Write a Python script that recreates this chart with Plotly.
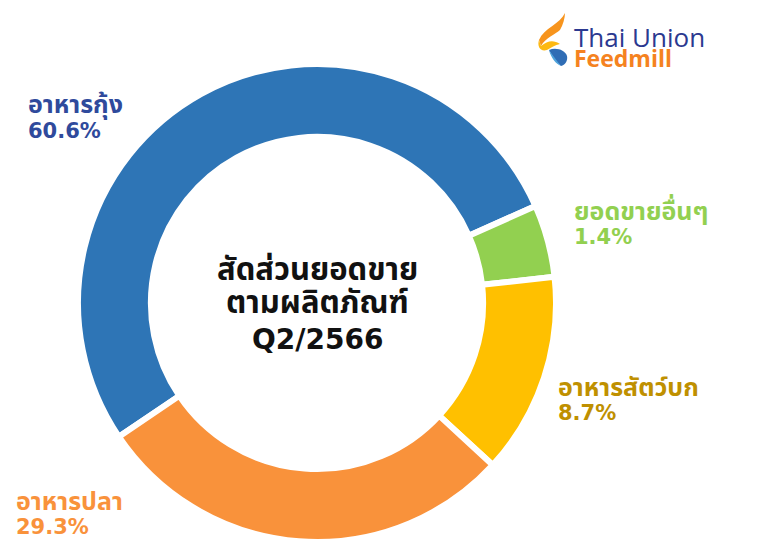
import plotly.graph_objects as go

W, H = 777, 556

# ---- data ----
categories = ["อาหารกุ้ง", "ยอดขายอื่นๆ", "อาหารสัตว์บก", "อาหารปลา"]
slice_values = [52.8, 4.9, 13.6, 28.7]          # slice sizes as drawn
label_pcts = ["60.6%", "1.4%", "8.7%", "29.3%"]  # printed labels
slice_colors = ["#2E75B6", "#92D050", "#FFC000", "#F9923B"]
label_colors = ["#2F4A9C", "#92D050", "#BF9000", "#F9923B"]
center_lines = ["สัดส่วนยอดขาย", "ตามผลิตภัณฑ์", "Q2/2566"]

THAI = "Tahoma, 'Noto Sans Thai', 'Noto Sans', sans-serif"
LATIN = "Tahoma, 'DejaVu Sans', Verdana, sans-serif"


def px(x):
    return x / W


def py(y):
    return 1 - y / H


cx, cy, r = 317, 303, 239
fig = go.Figure(go.Pie(
    labels=categories,
    values=slice_values,
    sort=False,
    direction="clockwise",
    rotation=236,
    hole=0.695,
    marker=dict(colors=slice_colors, line=dict(color="white", width=6)),
    textinfo="none",
    hoverinfo="label+percent",
    showlegend=False,
    domain=dict(x=[px(cx - r), px(cx + r)], y=[py(cy + r), py(cy - r)]),
))

anns = []


def txt(x, y, s, family, size, color, xanchor="left", bold=True):
    anns.append(dict(
        x=px(x), y=py(y), xref="paper", yref="paper",
        xanchor=xanchor, yanchor="middle", showarrow=False,
        text=f"<b>{s}</b>" if bold else s,
        font=dict(family=family, size=size, color=color),
    ))


# slice labels: (left x, name centre y, pct centre y)
label_pos = [(26, 105, 131), (572, 212, 237), (556, 388, 413), (14, 502, 527)]
for name, pct, col, (lx, ny, pyy) in zip(categories, label_pcts, label_colors, label_pos):
    txt(lx, ny, name, THAI, 25, col)
    txt(lx, pyy, pct, LATIN, 21, col)

# centre title
txt(cx, 270, center_lines[0], THAI, 31, "#111111", xanchor="center")
txt(cx, 303, center_lines[1], THAI, 31, "#111111", xanchor="center")
txt(cx, 339, center_lines[2], LATIN, 28, "#111111", xanchor="center")

# logo text
txt(572, 37, "Thai Union", "'Open Sans', Arial, sans-serif", 26, "#2B3990", bold=False)
txt(572, 58, "Feedmill", "'Open Sans', Arial, sans-serif", 23, "#F58220")


def pth(cmds):
    out = []
    for c in cmds:
        if isinstance(c, str):
            out.append(c)
        else:
            out.append(f"{px(c[0]):.5f},{py(c[1]):.5f}")
    return " ".join(out)


shapes = [
    dict(type="path", xref="paper", yref="paper", line=dict(width=0),
         fillcolor="#F7941D",
         path=pth(["M", (565, 13), "C", (560, 24), (544, 28), (539, 40),
                   "L", (541, 46), "C", (545, 38), (556, 34), (560, 30),
                   "C", (563, 25), (565, 18), (565, 13), "Z"])),
    dict(type="path", xref="paper", yref="paper", line=dict(width=0),
         fillcolor="#FDB913",
         path=pth(["M", (539, 40), "C", (537, 46), (540, 52), (547, 50),
                   "C", (551, 48), (555, 45), (560, 44),
                   "C", (554, 40), (548, 40), (541, 46), "Z"])),
    dict(type="path", xref="paper", yref="paper", line=dict(width=0),
         fillcolor="#2F6DB5",
         path=pth(["M", (549, 50), "C", (556, 47), (565, 50), (567, 56),
                   "C", (568, 61), (565, 65), (561, 66),
                   "C", (556, 62), (552, 56), (549, 50), "Z"])),
    dict(type="path", xref="paper", yref="paper", line=dict(width=0),
         fillcolor="#4FA3DB",
         path=pth(["M", (549, 50), "C", (553, 56), (557, 61), (561, 66),
                   "C", (556, 64), (551, 58), (549, 50), "Z"])),
]

fig.update_layout(
    width=W, height=H,
    margin=dict(l=0, r=0, t=0, b=0),
    paper_bgcolor="white", plot_bgcolor="white",
    annotations=anns, shapes=shapes,
)
fig.write_html("out.html",
               config={"displayModeBar": False},
               post_script="document.body.style.margin='0';document.body.style.overflow='hidden';")
